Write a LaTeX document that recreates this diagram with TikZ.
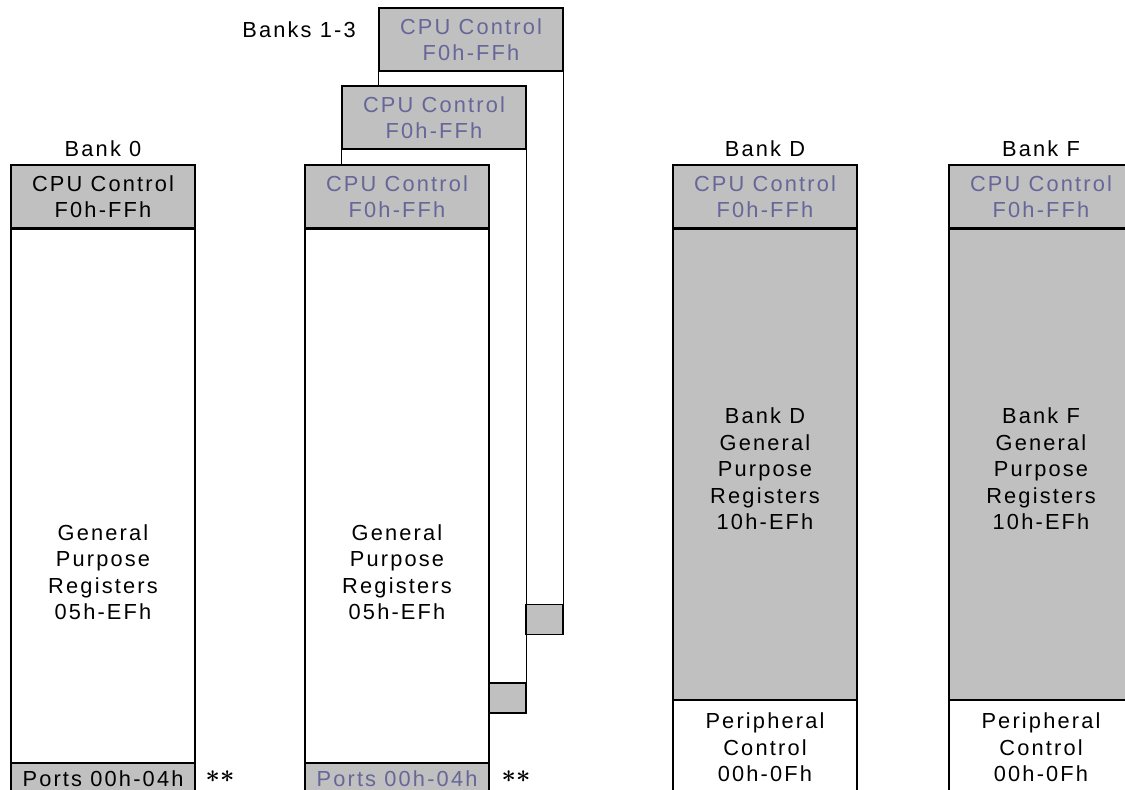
\documentclass[tikz,border=0pt]{standalone}
\usepackage{fontspec}
\setmainfont{Liberation Sans}[LetterSpace=10]
\usepackage{xcolor}
\usepackage{tikz}
\usetikzlibrary{positioning, calc}
\definecolor{regfill}{RGB}{192, 192, 192}
\definecolor{ctrlblue}{RGB}{102, 102, 153}
\newcommand{\banktext}{\fontsize{21.8}{26.5}\selectfont}

\begin{document}
\begin{tikzpicture}[
    x=1pt, y=-1pt,
    line width=1.2pt,
    ctrlbox/.style={rectangle, draw, fill=regfill, minimum width=184pt, minimum height=63pt, inner sep=0pt, align=center, font=\banktext},
    regbox/.style={rectangle, draw, fill=white, minimum width=184pt, inner sep=0pt},
    portbox/.style={rectangle, draw, fill=regfill, minimum width=184pt, minimum height=31pt, inner sep=0pt, font=\banktext},
    stubbox/.style={rectangle, draw, fill=regfill, minimum width=37pt, minimum height=30pt, inner sep=0pt},
    banklabel/.style={inner sep=0pt, align=center, font=\banktext},
    starmark/.style={inner sep=0pt, font=\fontsize{23}{23}\selectfont\boldmath}
]
    \clip (0, 0) rectangle (1125, 790);

    % Bank 0
    \node[banklabel] (lbl0) at (103, 149) {Bank 0};
    \node[ctrlbox] (cpu0) at (103, 196.5) {CPU Control\\F0h-FFh};
    \node[regbox, minimum height=533pt, below=0pt of cpu0] (gpr0) {};
    \node[portbox, below=0pt of gpr0] (port0) {Ports 00h-04h};
    \node[banklabel] (txt0) at (103, 572) {General\\Purpose\\Registers\\05h-EFh};
    \node[starmark] (star0) at (220, 777) {$\ast\ast$};

    % Banks 1-3 (stacked)
    \node[banklabel] (lbl1) at (299, 30) {Banks 1-3};
    \node[ctrlbox, text=ctrlblue] (cpu3) at (471, 39.5) {CPU Control\\F0h-FFh};
    \node[stubbox] (port3) at (544.5, 619.5) {};
    \draw (cpu3.south east) -- (port3.north east);
    \node[ctrlbox, text=ctrlblue] (cpu2) at (434, 117.5) {CPU Control\\F0h-FFh};
    \draw (cpu3.south west) -- (cpu3.south west |- cpu2.north);
    \node[stubbox] (port2) at (507.5, 698) {};
    \draw (cpu2.south east) -- (port2.north east);
    \node[ctrlbox, text=ctrlblue] (cpu1) at (397, 196.5) {CPU Control\\F0h-FFh};
    \draw (cpu2.south west) -- (cpu2.south west |- cpu1.north);
    \node[regbox, minimum height=533pt, below=0pt of cpu1] (gpr1) {};
    \node[portbox, text=ctrlblue, below=0pt of gpr1] (port1) {Ports 00h-04h};
    \node[banklabel] (txt1) at (397, 572) {General\\Purpose\\Registers\\05h-EFh};
    \node[starmark] (star1) at (516, 777) {$\ast\ast$};

    % Bank D
    \node[banklabel] (lbld) at (765, 149) {Bank D};
    \node[ctrlbox, text=ctrlblue] (cpud) at (765, 196.5) {CPU Control\\F0h-FFh};
    \node[regbox, fill=regfill, minimum height=470pt, below=0pt of cpud] (gprd) {};
    \node[regbox, minimum height=94pt, align=center, font=\banktext, below=0pt of gprd] (perd) {Peripheral\\Control\\00h-0Fh};
    \node[banklabel] (txtd) at (765, 469) {Bank D\\General\\Purpose\\Registers\\10h-EFh};

    % Bank F
    \node[banklabel] (lblf) at (1041, 149) {Bank F};
    \node[ctrlbox, text=ctrlblue] (cpuf) at (1041, 196.5) {CPU Control\\F0h-FFh};
    \node[regbox, fill=regfill, minimum height=470pt, below=0pt of cpuf] (gprf) {};
    \node[regbox, minimum height=94pt, align=center, font=\banktext, below=0pt of gprf] (perf) {Peripheral\\Control\\00h-0Fh};
    \node[banklabel] (txtf) at (1041, 469) {Bank F\\General\\Purpose\\Registers\\10h-EFh};

\end{tikzpicture}
\end{document}
